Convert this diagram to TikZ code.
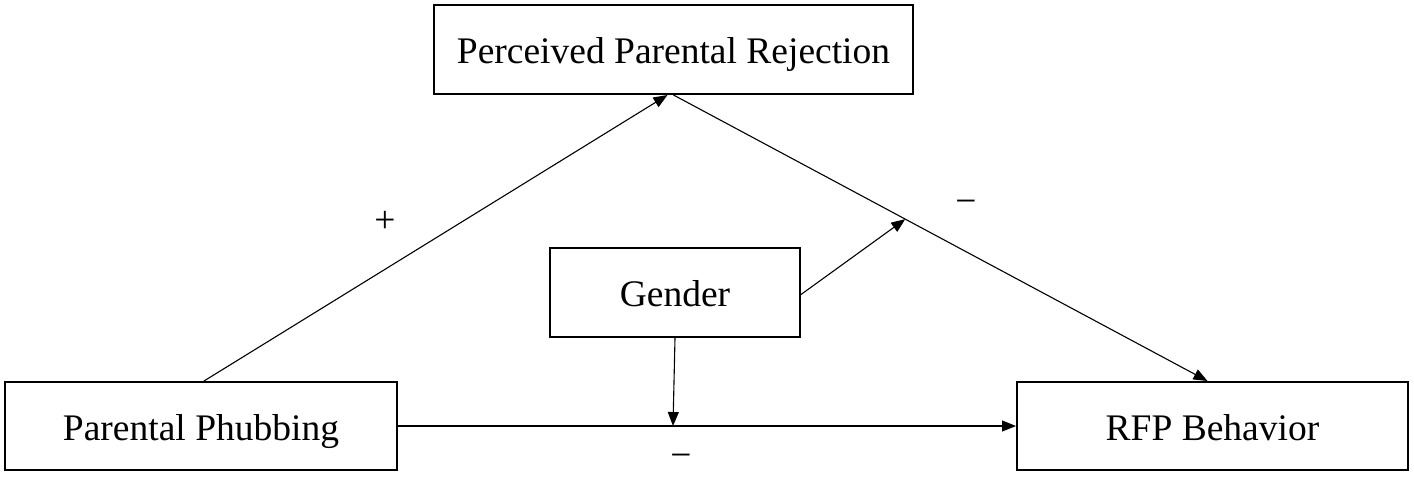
\documentclass[tikz,border=0pt]{standalone}
\usepackage{fontspec}
\setmainfont{Liberation Serif}
\usetikzlibrary{arrows.meta}
\begin{document}
\begin{tikzpicture}[x=1pt,y=-1pt,
  box/.style={draw,line width=2pt,inner sep=0pt,text height=28pt,text depth=0pt,font=\fontsize{37.5}{45}\selectfont},
  conn/.style={line width=1.1pt,-{Triangle[length=14pt,width=11pt]}},
  sign/.style={font=\fontsize{37.5}{45}\selectfont,inner sep=0pt}]
\useasboundingbox (0,0) rectangle (1414,477);
\node[box,minimum width=479pt,minimum height=89pt] (ppr) at (673.5,49.5) {Perceived Parental Rejection};
\node[box,minimum width=250pt,minimum height=89pt] (gen) at (675,292.5) {Gender};
\node[box,minimum width=392pt,minimum height=88pt] (pp) at (201,426) {Parental Phubbing};
\node[box,minimum width=391pt,minimum height=88pt] (rfp) at (1212.5,426) {RFP Behavior};
\draw[conn] ([xshift=3pt]pp.north) -- ([xshift=-6pt]ppr.south);
\draw[conn] (ppr.south) -- coordinate[pos=0.434] (m) ([xshift=-5pt]rfp.north);
\draw[conn] ([yshift=-2pt]gen.east) -- (m);
\draw[conn] (pp.east) -- (rfp.west);
\coordinate (hb) at (673,426);
\draw[conn] (gen.south) -- (hb);
\node[sign] (plus) at (385,222) {+};
\node[sign] (m1) at (966,207) {−};
\node[sign] (m2) at (681,461) {−};
\end{tikzpicture}
\end{document}
